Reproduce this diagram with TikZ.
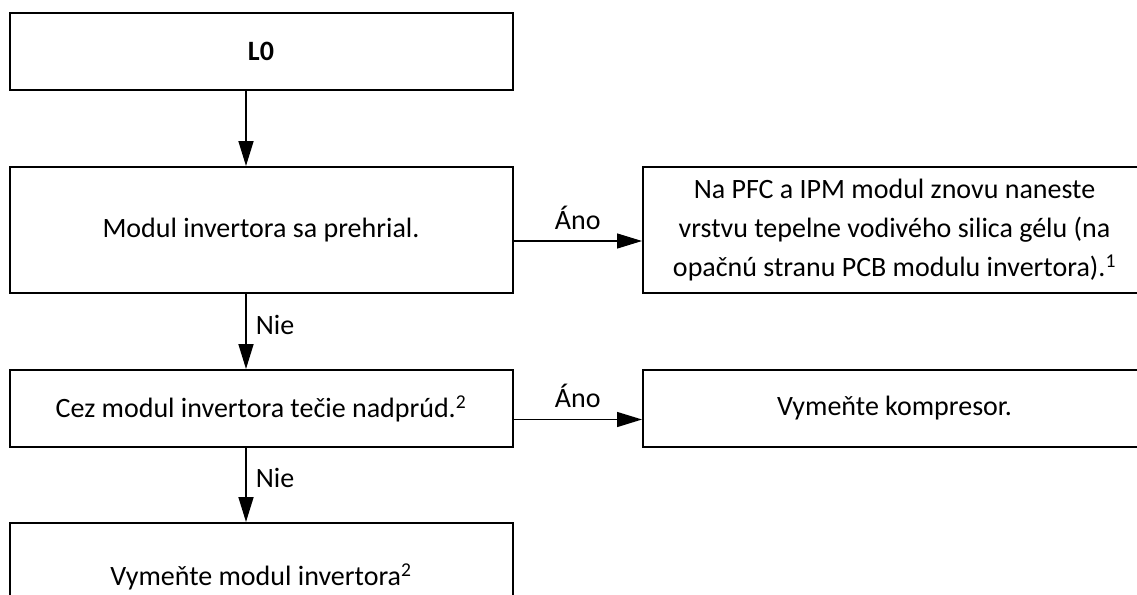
\documentclass[tikz,border=0pt]{standalone}
\usepackage{fontspec}
\setmainfont{Carlito}
\usetikzlibrary{arrows.meta}
\begin{document}
\begin{tikzpicture}[x=1pt, y=-1pt,
        box/.style={draw, line width=2pt, minimum width=503pt, inner sep=0pt, align=center, font=\fontsize{28}{39}\selectfont},
        flow/.style={line width=1.7pt, -{Triangle[length=25pt, width=15pt]}},
        yes/.style={line width=1.4pt, -{Triangle[length=25pt, width=15pt]}},
        lbl/.style={inner sep=0pt, font=\fontsize{28}{39}\selectfont}]
        \useasboundingbox (0,0) rectangle (1137,594);

        % draw left column
        \node[box, minimum height=77pt] (l0) at (261,51.5) {\textbf{L0}};
        \node[box, minimum height=126pt] (modul) at (261,230) {Modul invertora sa prehrial.};
        \node[box, minimum height=77pt] (cez) at (261,408.5) {Cez modul invertora tečie nadprúd.\textsuperscript{2}};
        \node[box, minimum height=108pt] (vymena) at (261,577) {Vymeňte modul invertora\textsuperscript{2}};

        % draw right column
        \node[box, minimum height=126pt] (gel) at (894.5,230) {Na PFC a IPM modul znovu naneste\\ vrstvu tepelne vodivého silica gélu (na\\ opačnú stranu PCB modulu invertora).\textsuperscript{1}};
        \node[box, minimum height=77pt] (komp) at (894.5,408.5) {Vymeňte kompresor.};

        % draw arrows down
        \draw[flow] ([xshift=-15pt]l0.south) -- ([xshift=-15pt]modul.north);
        \draw[flow] ([xshift=-15pt]modul.south) -- node[lbl, pos=0.54, anchor=base west, xshift=9pt] {Nie} ([xshift=-15pt]cez.north);
        \draw[flow] ([xshift=-15pt]cez.south) -- node[lbl, pos=0.54, anchor=base west, xshift=9pt] {Nie} ([xshift=-15pt]vymena.north);

        % draw arrows right
        \draw[yes] ([yshift=-11pt]modul.east) -- node[lbl, midway, anchor=base, yshift=12pt] {Áno} ([yshift=-11pt]gel.west);
        \draw[yes] ([yshift=-11pt]cez.east) -- node[lbl, midway, anchor=base, yshift=12pt] {Áno} ([yshift=-11pt]komp.west);
    \end{tikzpicture}
\end{document}
